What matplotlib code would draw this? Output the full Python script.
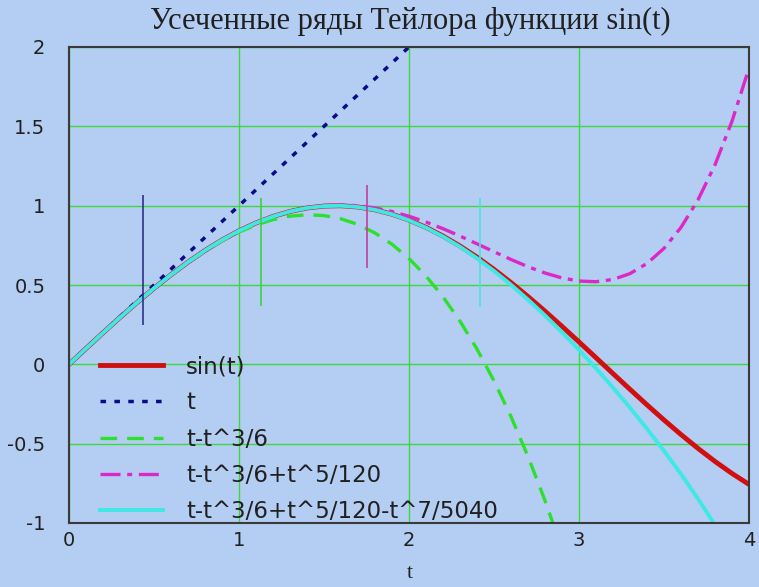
import matplotlib
matplotlib.use('Agg')
import matplotlib.pyplot as plt

t_vals = [round(0.1 * i, 1) for i in range(41)]

sin_vals = [0.0, 0.0998, 0.1987, 0.2955, 0.3894, 0.4794, 0.5646, 0.6442, 0.7174, 0.7833,
            0.8415, 0.8912, 0.9320, 0.9636, 0.9854, 0.9975, 0.9996, 0.9917, 0.9738, 0.9463,
            0.9093, 0.8632, 0.8085, 0.7457, 0.6755, 0.5985, 0.5155, 0.4274, 0.3350, 0.2392,
            0.1411, 0.0416, -0.0584, -0.1577, -0.2555, -0.3508, -0.4425, -0.5298, -0.6119, -0.6878,
            -0.7568]

lin_t = [0.0, 2.0]
lin_vals = [0.0, 2.0]

cub_vals = [0.0, 0.0998, 0.1987, 0.2955, 0.3893, 0.4792, 0.5640, 0.6428, 0.7147, 0.7785,
            0.8333, 0.8782, 0.9120, 0.9338, 0.9427, 0.9375, 0.9173, 0.8812, 0.8280, 0.7568,
            0.6667, 0.5565, 0.4253, 0.2722, 0.0960, -0.1042, -0.3293, -0.5805, -0.8587, -1.1648]

quint_vals = [0.0, 0.0998, 0.1987, 0.2955, 0.3894, 0.4794, 0.5646, 0.6442, 0.7174, 0.7834,
              0.8417, 0.8916, 0.9327, 0.9648, 0.9875, 1.0008, 1.0047, 0.9995, 0.9855, 0.9632,
              0.9333, 0.8968, 0.8548, 0.8085, 0.7596, 0.7096, 0.6608, 0.6152, 0.5755, 0.5444,
              0.5250, 0.5206, 0.5349, 0.5718, 0.6356, 0.7310, 0.8629, 1.0365, 1.2576, 1.5322,
              1.8667]

sept_vals = [0.0, 0.0998, 0.1987, 0.2955, 0.3894, 0.4794, 0.5646, 0.6442, 0.7174, 0.7833,
             0.8415, 0.8912, 0.9320, 0.9636, 0.9854, 0.9974, 0.9994, 0.9913, 0.9733, 0.9454,
             0.9079, 0.8611, 0.8053, 0.7410, 0.6685, 0.5885, 0.5014, 0.4077, 0.3078, 0.2022,
             0.0911, -0.0253, -0.1469, -0.2738, -0.4065, -0.5456, -0.6920, -0.8472, -1.0126]

labels = ['sin(t)', 't', 't-t^3/6', 't-t^3/6+t^5/120', 't-t^3/6+t^5/120-t^7/5040']

# trace markers (x, ymin, ymax)
mark_x = [0.435, 1.13, 1.75, 2.42]
mark_lo = [0.25, 0.37, 0.61, 0.36]
mark_hi = [1.07, 1.05, 1.13, 1.05]

bg = '#b4cdf2'
grid_col = '#3cd83c'
c_sin = '#d01010'
c_t = '#0a0a8a'
c_cub = '#2ee02e'
c_quint = '#dd28c8'
c_sept = '#3ee8e4'
mark_cols = ['#30308a', '#40d040', '#c040a0', '#50e0d8']

fig = plt.figure(figsize=(7.59, 5.87), dpi=100, facecolor=bg)
ax = fig.add_axes([69/759, 1 - 523/587, 680/759, 476/587], facecolor=bg)

ax.set_xlim(0, 4)
ax.set_ylim(-1, 2)
ax.set_xticks([0, 1, 2, 3, 4])
ax.set_xticklabels(['0', '1', '2', '3', '4'])
ax.set_yticks([-1, -0.5, 0, 0.5, 1, 1.5, 2])
ax.set_yticklabels(['-1', '-0.5', '0', '0.5', '1', '1.5', '2'])
ax.tick_params(length=0, labelsize=14, colors='#202020')
ax.tick_params(axis='y', pad=17)
ax.tick_params(axis='x', pad=6)
for lab in ax.get_xticklabels() + ax.get_yticklabels():
    lab.set_fontfamily('DejaVu Sans')
ax.grid(True, color=grid_col, lw=1)
ax.set_axisbelow(True)
for s in ax.spines.values():
    s.set_color('#3a3a3a')
    s.set_linewidth(1.5)

h1, = ax.plot(t_vals, sin_vals, color=c_sin, lw=3.5, label=labels[0])
h2, = ax.plot(lin_t, lin_vals, color=c_t, lw=2.5, dashes=(1.6, 2.4), label=labels[1])
h3, = ax.plot(t_vals[:len(cub_vals)], cub_vals, color=c_cub, lw=2.4, dashes=(5, 3), label=labels[2])
h4, = ax.plot(t_vals, quint_vals, color=c_quint, lw=2.4, dashes=(6, 2, 1.5, 2), label=labels[3])
h5, = ax.plot(t_vals[:len(sept_vals)], sept_vals, color=c_sept, lw=2.8, label=labels[4])

for x, lo, hi, c in zip(mark_x, mark_lo, mark_hi, mark_cols):
    ax.vlines(x, lo, hi, color=c, lw=1.2, zorder=4)

leg = ax.legend(loc='upper left', bbox_to_anchor=(100/759, 1 - 355/587),
                bbox_transform=fig.transFigure, frameon=False,
                prop={'family': 'DejaVu Sans', 'size': 16.5},
                handlelength=2.75, handletextpad=1.0, labelspacing=0.58,
                borderpad=0, borderaxespad=0)
for txt in leg.get_texts():
    txt.set_color('#202020')

fig.text(410/759, 1 - 21/587, 'Усеченные ряды Тейлора функции sin(t)',
         ha='center', va='center', fontsize=22, family='Liberation Serif', color='#202020')
fig.text(410/759, 1 - 573/587, 't', ha='center', va='center', fontsize=16,
         family='Liberation Serif', color='#202020')

fig.savefig('out.png', dpi=100, facecolor=bg)
